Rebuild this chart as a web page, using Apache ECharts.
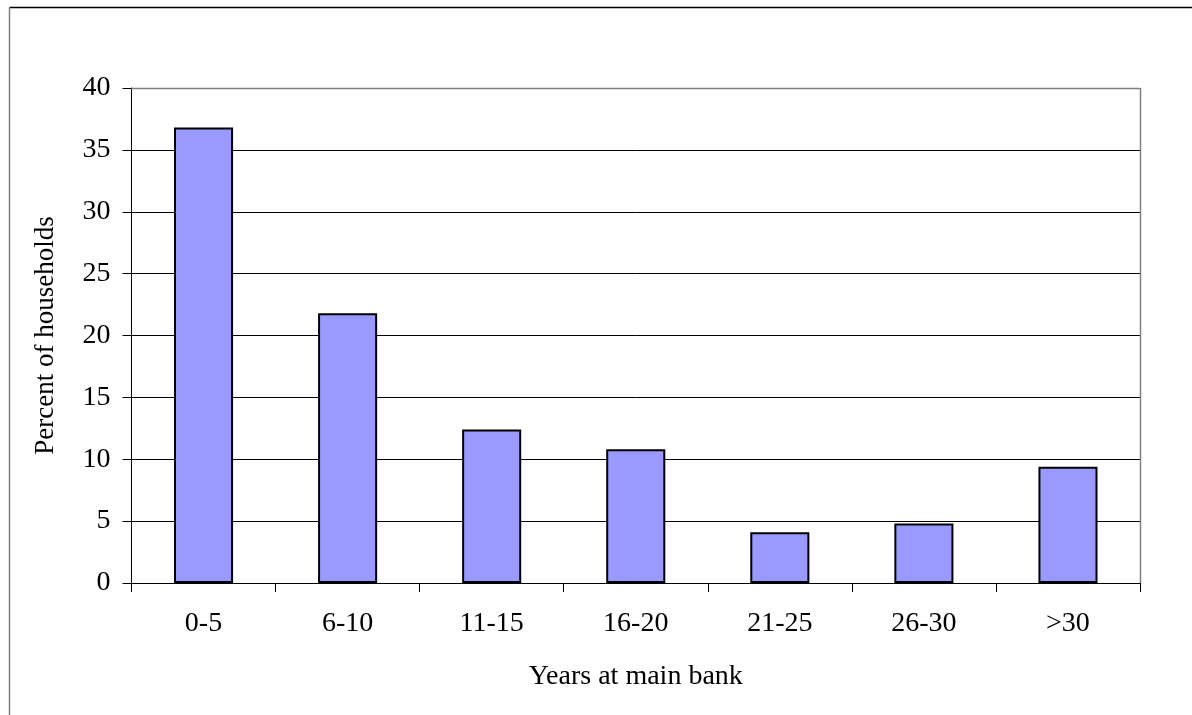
<!DOCTYPE html>
<html>
<head>
<meta charset="utf-8">
<script src="https://cdn.jsdelivr.net/npm/echarts@6/dist/echarts.min.js"></script>
<style>
  html, body { margin: 0; padding: 0; background: #fff; }
  #chart { width: 1192px; height: 715px; }
</style>
</head>
<body>
<div id="chart"></div>
<script>
// Share of households by number of years with their main bank
const categories = ['0-5', '6-10', '11-15', '16-20', '21-25', '26-30', '>30'];
const percentHouseholds = [36.8, 21.8, 12.4, 10.8, 4.1, 4.8, 9.4];
const yTicks = [0, 5, 10, 15, 20, 25, 30, 35, 40];

const FONT = '"Liberation Serif", "Times New Roman", serif';
const chart = echarts.init(document.getElementById('chart'));

const gridLeft = 131.5, gridTop = 88, gridRight = 52, gridBottom = 132;
const plotRight = 1192 - gridRight;

chart.setOption({
  animation: false,
  backgroundColor: '#ffffff',
  grid: { left: gridLeft, top: gridTop, right: gridRight, bottom: gridBottom },
  xAxis: {
    type: 'category',
    data: categories,
    name: 'Years at main bank',
    nameLocation: 'middle',
    nameGap: 80,
    nameTextStyle: { fontFamily: FONT, fontSize: 28, color: '#000' },
    axisLine: { lineStyle: { color: '#000', width: 1 } },
    axisTick: { show: true, length: 9, lineStyle: { color: '#000' } },
    axisLabel: { fontFamily: FONT, fontSize: 28, color: '#000', margin: 27 },
    splitLine: { show: false }
  },
  yAxis: {
    type: 'value',
    min: yTicks[0],
    max: yTicks[yTicks.length - 1],
    interval: 5,
    name: 'Percent of households',
    nameLocation: 'middle',
    nameGap: 72,
    nameRotate: 90,
    nameTextStyle: { fontFamily: FONT, fontSize: 27, color: '#000' },
    axisLine: { show: true, lineStyle: { color: '#000', width: 1 } },
    axisTick: { show: true, length: 9, lineStyle: { color: '#000' } },
    axisLabel: { fontFamily: FONT, fontSize: 28, color: '#000', margin: 21 },
    splitLine: { show: true, lineStyle: { color: '#000', width: 1 } }
  },
  series: [{
    type: 'bar',
    data: percentHouseholds,
    barWidth: '41%',
    itemStyle: { color: '#9999FF', borderColor: '#000', borderWidth: 2 }
  }],
  graphic: [
    // plot area frame (top and right edges)
    { type: 'line', z: 100, shape: { x1: gridLeft, y1: gridTop + 0.5, x2: plotRight, y2: gridTop + 0.5 }, style: { stroke: '#808080', lineWidth: 1.5 } },
    { type: 'line', z: 100, shape: { x1: plotRight + 0.5, y1: gridTop, x2: plotRight + 0.5, y2: 715 - gridBottom }, style: { stroke: '#808080', lineWidth: 1.5 } },
    // outer chart frame
    { type: 'line', z: 100, shape: { x1: 9.5, y1: 7.5, x2: 1192, y2: 7.5 }, style: { stroke: '#000', lineWidth: 1.5 } },
    { type: 'line', z: 100, shape: { x1: 9.5, y1: 7.5, x2: 9.5, y2: 715 }, style: { stroke: '#808080', lineWidth: 1.5 } }
  ]
});
</script>
</body>
</html>
